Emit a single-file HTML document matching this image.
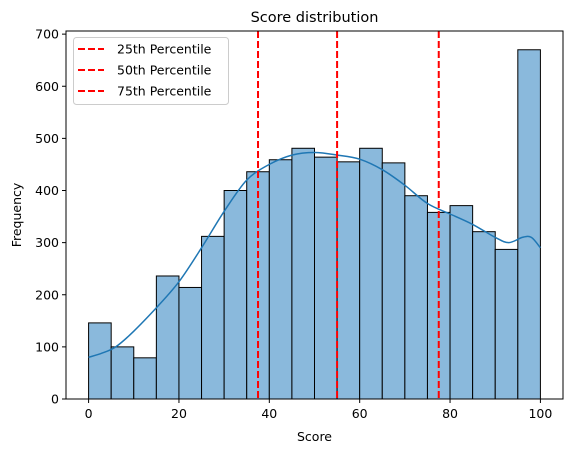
<!DOCTYPE html>
<html><head><meta charset="utf-8"><style>
body{margin:0;background:#fff;font-family:"DejaVu Sans","Liberation Sans",sans-serif;}
</style></head><body>
<svg id="chart" width="571" height="453" xmlns="http://www.w3.org/2000/svg" font-family="DejaVu Sans, Liberation Sans, sans-serif">
</svg>
<script>
const binStarts=[0,5,10,15,20,25,30,35,40,45,50,55,60,65,70,75,80,85,90,95];
const counts=[146,100,79,236,214,312,400,436,459,481,464,455,481,453,390,358,371,321,287,670];
const kdeX=[0,3,6,10,15,20,25,30,35,40,45,50,55,60,65,70,75,80,85,90,93,96,98,100];
const kdeY=[80,88,100,130,175,225,290,360,420,450,468,473,468,460,440,410,375,355,335,310,300,310,310,290];
const percentiles=[37.5,55,77.5];
const percentileLabels=["25th Percentile","50th Percentile","75th Percentile"];
const xTicks=[0,20,40,60,80,100];
const yTicks=[0,100,200,300,400,500,600,700];
const L=66,R=563,T=31,B=399,xmin=-5,xmax=105,ymin=0,ymax=706;
const X=v=>L+(v-xmin)/(xmax-xmin)*(R-L);
const Y=v=>B-(v-ymin)/(ymax-ymin)*(B-T);
const svg=document.getElementById('chart');
const NS='http://www.w3.org/2000/svg';
function mk(tag,attrs,parent){const e=document.createElementNS(NS,tag);for(const k in attrs)e.setAttribute(k,attrs[k]);(parent||svg).appendChild(e);return e;}
binStarts.forEach((s,i)=>{
  const r=mk('rect',{x:X(s),y:Y(counts[i]),width:X(s+5)-X(s),height:Y(0)-Y(counts[i]),fill:'#8ab9dc',stroke:'#000','stroke-width':1});
  
  
});
const pts=kdeX.map((x,i)=>[X(x),Y(kdeY[i])]);
let d='M'+pts[0][0].toFixed(1)+','+pts[0][1].toFixed(1);
for(let i=0;i<pts.length-1;i++){
  const p0=pts[Math.max(0,i-1)],p1=pts[i],p2=pts[i+1],p3=pts[Math.min(pts.length-1,i+2)];
  const c1=[p1[0]+(p2[0]-p0[0])/6,p1[1]+(p2[1]-p0[1])/6];
  const c2=[p2[0]-(p3[0]-p1[0])/6,p2[1]-(p3[1]-p1[1])/6];
  d+=' C'+c1.map(v=>v.toFixed(1)).join(',')+' '+c2.map(v=>v.toFixed(1)).join(',')+' '+p2.map(v=>v.toFixed(1)).join(',');
}
const kde=mk('path',{d:d,fill:'none',stroke:'#1f77b4','stroke-width':1.5,'stroke-linejoin':'round'});


percentiles.forEach((p,i)=>{
  const l=mk('line',{x1:X(p),x2:X(p),y1:T,y2:B,stroke:'#ff0000','stroke-width':2,'stroke-dasharray':'7,3'});
  
  
});
mk('rect',{x:L,y:T,width:R-L,height:B-T,fill:'none',stroke:'#000','stroke-width':1});
xTicks.forEach(t=>{
  mk('line',{x1:X(t),x2:X(t),y1:B,y2:B+4,stroke:'#000'});
  const tx=mk('text',{x:X(t),y:B+19,'text-anchor':'middle','font-size':12.5});
  tx.textContent=t;
  
  
});
yTicks.forEach(t=>{
  mk('line',{x1:L-4,x2:L,y1:Y(t),y2:Y(t),stroke:'#000'});
  const tx=mk('text',{x:L-7,y:Y(t)+4.5,'text-anchor':'end','font-size':12.5});
  tx.textContent=t;
  
  
});
const title=mk('text',{x:(L+R)/2,y:22,'text-anchor':'middle','font-size':14.5});
title.textContent='Score distribution';


const xl=mk('text',{x:(L+R)/2,y:441,'text-anchor':'middle','font-size':12.5});
xl.textContent='Score';


const yl=mk('text',{x:21,y:(T+B)/2,'text-anchor':'middle','font-size':12.5,transform:'rotate(-90 21 '+((T+B)/2)+')'});
yl.textContent='Frequency';


const lg=mk('g',{});


mk('rect',{x:73.5,y:37.5,width:155,height:67,rx:3,fill:'#fff','fill-opacity':0.8,stroke:'#ccc'},lg);
percentileLabels.forEach((s,i)=>{
  const y=49+i*21;
  mk('line',{x1:78,x2:104,y1:y,y2:y,stroke:'#ff0000','stroke-width':2,'stroke-dasharray':'7,3'},lg);
  const t=mk('text',{x:117,y:y+4.5,'font-size':12.5},lg);
  t.textContent=s;
  
  
});
</script>
</body></html>
